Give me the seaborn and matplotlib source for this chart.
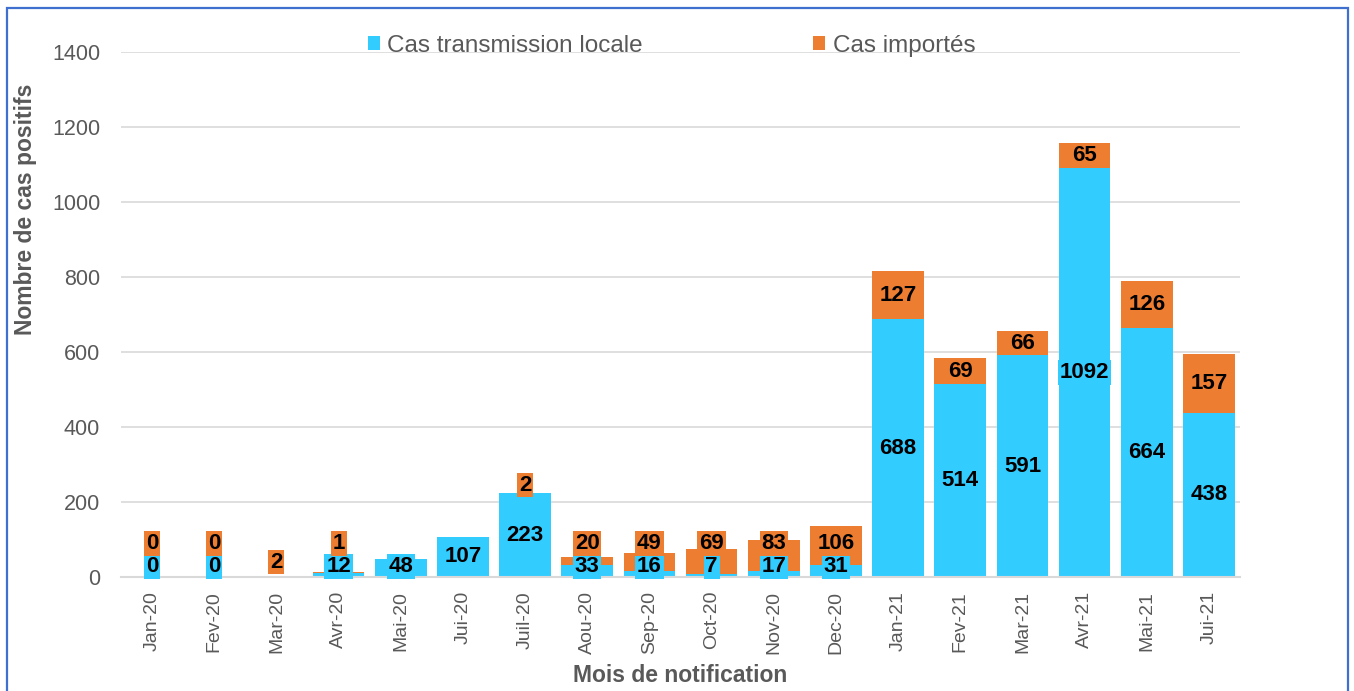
import numpy as np
import pandas as pd
import matplotlib.pyplot as plt
import seaborn as sns
from matplotlib.patches import Rectangle

# data
months = ['Jan-20', 'Fev-20', 'Mar-20', 'Avr-20', 'Mai-20', 'Jui-20', 'Juil-20', 'Aou-20',
          'Sep-20', 'Oct-20', 'Nov-20', 'Dec-20', 'Jan-21', 'Fev-21', 'Mar-21', 'Avr-21',
          'Mai-21', 'Jui-21']
local = [0, 0, 0, 12, 48, 107, 223, 33, 16, 7, 17, 31, 688, 514, 591, 1092, 664, 438]
imported = [0, 0, 2, 1, 0, 0, 2, 20, 49, 69, 83, 106, 127, 69, 66, 65, 126, 157]
local_label_hidden = ['Mar-20']
imported_label_hidden = ['Mai-20', 'Jui-20']

BLUE = '#33CCFF'
ORANGE = '#ED7D31'
GREY = '#595959'
LIGHT = '#D9D9D9'

df = pd.DataFrame({'mois': months, 'local': local, 'importe': imported})
df['total'] = df['local'] + df['importe']

sns.set_theme(style='white')
plt.rcParams['font.family'] = ['Liberation Sans', 'DejaVu Sans']

fig = plt.figure(figsize=(13.54, 6.91), dpi=100)
ax = fig.add_axes([121 / 1354, 1 - 577 / 691, 1119 / 1354, 525 / 691])

# stacked bars: total in orange, local drawn over it in blue
sns.barplot(data=df, x='mois', y='total', color=ORANGE, saturation=1, width=0.83,
            edgecolor='none', ax=ax, zorder=2)
sns.barplot(data=df, x='mois', y='local', color=BLUE, saturation=1, width=0.83,
            edgecolor='none', ax=ax, zorder=2)

ax.set_xlim(-0.5, len(months) - 0.5)
ax.set_ylim(0, 1400)
ax.set_yticks(range(0, 1401, 200))
ax.yaxis.grid(True, color=LIGHT, lw=1.2)
ax.set_axisbelow(True)
for s in ['top', 'right', 'left']:
    ax.spines[s].set_visible(False)
ax.spines['bottom'].set_color(LIGHT)
ax.spines['bottom'].set_linewidth(1.5)

ax.set_xticks(range(len(months)))
ax.set_xticklabels(months, rotation=90)
ax.set_xticks(np.arange(-0.5, len(months), 1), minor=True)
ax.tick_params(axis='x', which='major', length=0, pad=10, labelsize=14, labelcolor=GREY)
ax.tick_params(axis='x', which='minor', length=6, width=1.5, color=LIGHT, direction='out')
ax.tick_params(axis='y', length=0, pad=15, labelsize=15.5, labelcolor=GREY)

ax.set_xlabel('Mois de notification', fontsize=16.5, fontweight='bold', color=GREY)
ax.set_ylabel('Nombre de cas positifs', fontsize=16.5, fontweight='bold', color=GREY)
ax.xaxis.set_label_coords(0.5, -0.165)
ax.yaxis.set_label_coords(-0.075, 0.70)

# value labels with filled boxes, like the original
lab_kw = dict(ha='center', va='center', fontsize=16, fontweight='bold', color='black',
              zorder=5)
for i, row in df.iterrows():
    blue_y = None
    if row['mois'] not in local_label_hidden:
        blue_y = max(row['local'] / 2, 28)
        ax.text(i, blue_y, f"{row['local']}", **lab_kw,
                bbox=dict(boxstyle='square,pad=0.08', fc=BLUE, ec='none'))
    if row['mois'] not in imported_label_hidden:
        h = row['importe']
        mid = row['local'] + h / 2
        if h < 10:
            mid = row['local'] + h + 20
        floor = blue_y + 62 if blue_y is not None else 40
        ax.text(i, max(mid, floor), f"{h}", **lab_kw,
                bbox=dict(boxstyle='square,pad=0.08', fc=ORANGE, ec='none'))

ax.legend(handles=[ax.containers[1], ax.containers[0]],
          labels=['Cas transmission locale', 'Cas importés'],
          loc='center', bbox_to_anchor=(0.496, 1 - 46 / 691),
          bbox_transform=fig.transFigure, ncol=2, frameon=False,
          fontsize=17.5, labelcolor=GREY, handlelength=0.5, handleheight=0.5,
          handletextpad=0.3, columnspacing=7)

# blue frame around the picture
fig.add_artist(Rectangle((7 / 1354, -0.02), 1341 / 1354, 1 - 8 / 691 + 0.02,
                         transform=fig.transFigure, fill=False, edgecolor='#3F6FCF', lw=1.6))

fig.savefig('out.png', dpi=100)
